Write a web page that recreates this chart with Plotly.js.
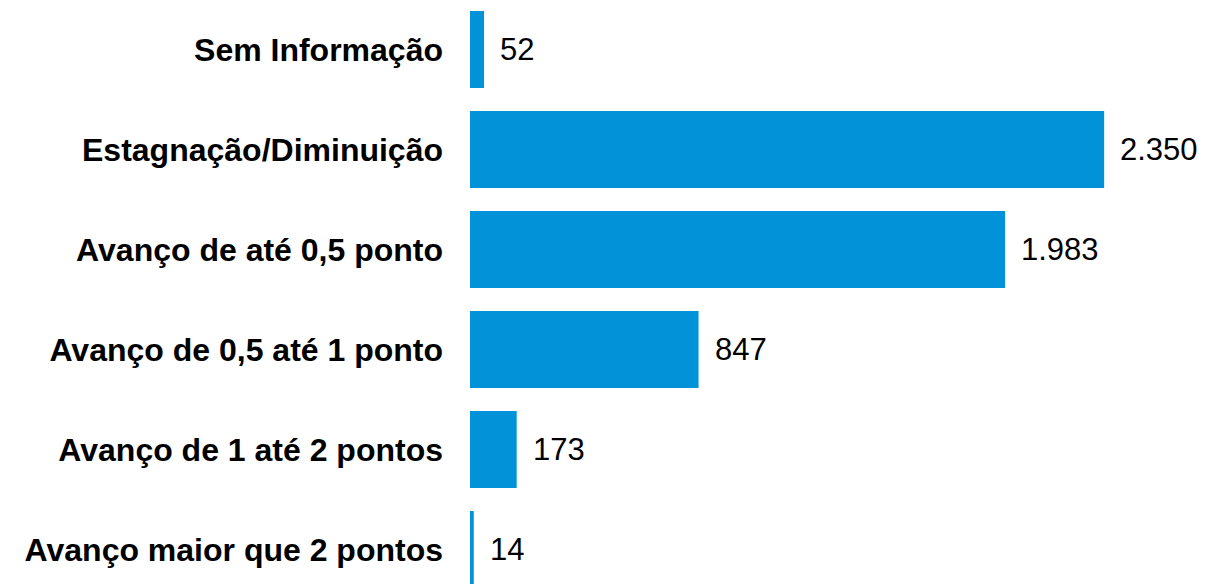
<!DOCTYPE html>
<html>
<head>
<meta charset="utf-8">
<script src="https://cdn.plot.ly/plotly-3.0.1.min.js"></script>
<style>
html,body{margin:0;padding:0;background:#fff;}
#chart{width:1228px;height:584px;}
</style>
</head>
<body>
<div id="chart"></div>
<script>
// bottom to top
var categorias = ["Avanço maior que 2 pontos", "Avanço de 1 até 2 pontos", "Avanço de 0,5 até 1 ponto",
                  "Avanço de até 0,5 ponto", "Estagnação/Diminuição", "Sem Informação"];
var valores = [14, 173, 847, 1983, 2350, 52];
var rotulos = ["14", "173", "847", "1.983", "2.350", "52"];

var cor = '#0292d8';

var trace = {
  type: 'bar',
  orientation: 'h',
  x: valores,
  y: categorias,
  marker: {color: cor},
  hoverinfo: 'none'
};

var notas = [];
for (let i = 0; i < categorias.length; i++) {
  notas.push({
    x: valores[i],
    y: categorias[i],
    xref: 'x', yref: 'y',
    text: rotulos[i],
    showarrow: false,
    xanchor: 'left',
    yanchor: 'middle',
    xshift: 14,
    font: {family: 'Liberation Sans, Arial, sans-serif', size: 31, color: '#000'}
  });
}

var layout = {
  width: 1228,
  height: 584,
  margin: {l: 470, r: 0, t: 0, b: 0},
  paper_bgcolor: '#fff',
  plot_bgcolor: '#fff',
  showlegend: false,
  bargap: 0.23,
  xaxis: {
    range: [0, 2809],
    visible: false,
    showgrid: false,
    zeroline: false
  },
  yaxis: {
    type: 'category',
    range: [-0.345, 5.495],
    showgrid: false,
    zeroline: false,
    showline: false,
    ticks: '',
    ticklabelstandoff: 26,
    tickfont: {family: 'Liberation Sans, Arial, sans-serif', size: 32, color: '#000', weight: 'bold'}
  },
  annotations: notas
};

Plotly.newPlot('chart', [trace], layout, {displayModeBar: false, staticPlot: true});
</script>
</body>
</html>
